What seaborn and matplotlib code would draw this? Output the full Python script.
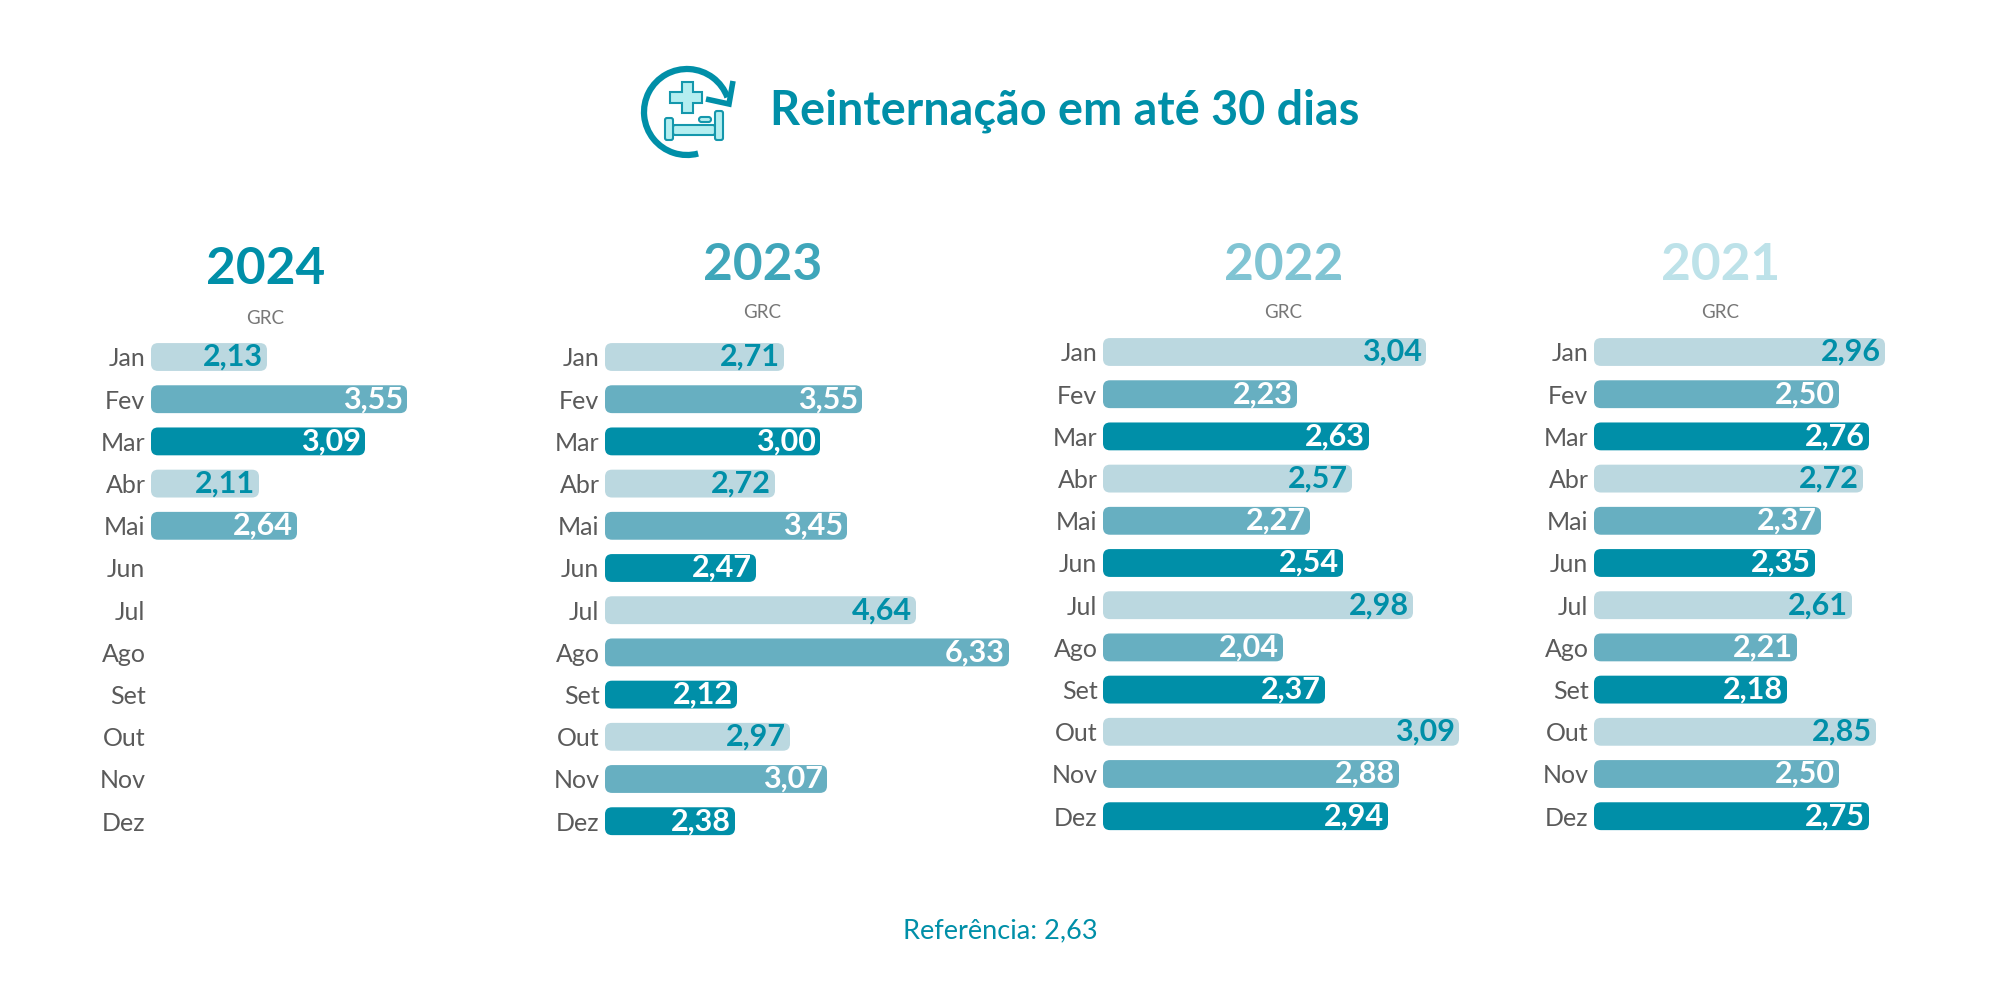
import numpy as np
import pandas as pd
import seaborn as sns
import matplotlib
matplotlib.use('Agg')
import matplotlib.pyplot as plt
from matplotlib.patches import Arc, FancyBboxPatch, Polygon

meses = ['Jan', 'Fev', 'Mar', 'Abr', 'Mai', 'Jun', 'Jul', 'Ago', 'Set', 'Out', 'Nov', 'Dez']
tons = ['claro', 'medio', 'escuro'] * 4

# printed values
valores_2024 = ['2,13', '3,55', '3,09', '2,11', '2,64']
valores_2023 = ['2,71', '3,55', '3,00', '2,72', '3,45', '2,47', '4,64', '6,33', '2,12', '2,97', '3,07', '2,38']
valores_2022 = ['3,04', '2,23', '2,63', '2,57', '2,27', '2,54', '2,98', '2,04', '2,37', '3,09', '2,88', '2,94']
valores_2021 = ['2,96', '2,50', '2,76', '2,72', '2,37', '2,35', '2,61', '2,21', '2,18', '2,85', '2,50', '2,75']

# the bars in the original are not proportional to the printed values,
# so the drawn lengths are read off the picture as their own series
barras_2024 = [116, 256, 214, 108, 146]
barras_2023 = [179, 257, 215, 170, 242, 151, 311, 404, 132, 185, 222, 130]
barras_2022 = [323, 194, 266, 249, 207, 240, 310, 180, 222, 356, 296, 285]
barras_2021 = [291, 245, 275, 269, 227, 221, 258, 203, 193, 282, 245, 275]

AZUL = '#008FA8'
cores = {'claro': '#BBD8E0', 'medio': '#67AFC1', 'escuro': AZUL}
cor_texto = {'claro': AZUL, 'medio': 'white', 'escuro': 'white'}

W, H = 2000, 1000
PASSO = 42.2   # row pitch in px

sns.set_theme(style='white')
plt.rcParams['font.family'] = ['Lato', 'DejaVu Sans']

fig = plt.figure(figsize=(20, 10), dpi=100, facecolor='white')

# overlay for title, icon and footer, in pixel units
base = fig.add_axes([0, 0, 1, 1])
base.set_xlim(0, W)
base.set_ylim(H, 0)
base.axis('off')

base.text(770, 111, 'Reinternação em até 30 dias', fontsize=33.7, fontweight='bold',
          color=AZUL, va='center', ha='left')
base.text(1000, 931, 'Referência: 2,63', fontsize=19.5, color=AZUL, va='center', ha='center')

# icon
base.add_patch(Arc((687, 112), 86, 86, theta1=75, theta2=340, color=AZUL, lw=4.5))
base.add_patch(Polygon([(733, 81), (729, 104), (706, 99)], closed=False, fill=False, ec=AZUL, lw=4))
fill_icone, borda_icone = '#B4EEF0', '#1497AC'
base.add_patch(Polygon([(682, 82), (693, 82), (693, 92), (702, 92), (702, 103), (693, 103), (693, 113),
                        (682, 113), (682, 103), (670, 103), (670, 92), (682, 92)],
                       closed=True, fc=fill_icone, ec=borda_icone, lw=1.5))
for xy, w, h in [((673, 125), 42, 10), ((665, 118), 8, 22), ((715, 111), 8, 29)]:
    base.add_patch(FancyBboxPatch(xy, w, h, boxstyle='round,pad=0,rounding_size=2',
                                  fc=fill_icone, ec=borda_icone, lw=1.5))
base.add_patch(FancyBboxPatch((699, 117), 12, 5, boxstyle='round,pad=0,rounding_size=2.5',
                              fc=fill_icone, ec=borda_icone, lw=1.5))

paineis = [
    ('2024', valores_2024, barras_2024, 151, 357, '#008FA8', 266, 270, 318),
    ('2023', valores_2023, barras_2023, 605, 357, '#3FA6BA', 763, 265, 313),
    ('2022', valores_2022, barras_2022, 1103, 352, '#80C4D3', 1284, 265, 313),
    ('2021', valores_2021, barras_2021, 1594, 352, '#BDE2E9', 1721, 265, 313),
]

for ano, valores, barras, x0, y0, cor_ano, x_ano, y_ano, y_grc in paineis:
    base.text(x_ano, y_ano, ano, fontsize=37, fontweight='bold', color=cor_ano, ha='center', va='center')
    base.text(x_ano - 1, y_grc, 'GRC', fontsize=13.5, color='#777777', ha='center', va='center')

    n = len(barras)
    df = pd.DataFrame({'mes': meses[:n], 'comprimento': barras, 'tom': tons[:n], 'valor': valores})

    topo = y0 - PASSO / 2
    largura = 420
    ax = fig.add_axes([x0 / W, 1 - (topo + 12 * PASSO) / H, largura / W, 12 * PASSO / H])
    ax.patch.set_alpha(0)
    sns.barplot(data=df, y='mes', x='comprimento', hue='tom', order=meses, hue_order=['claro', 'medio', 'escuro'],
                palette=cores, saturation=1, dodge=False, width=0.66, legend=False, ax=ax)
    ax.set_xlim(0, largura)
    ax.set_xlabel('')
    ax.set_ylabel('')
    ax.set_xticks([])
    ax.tick_params(axis='y', length=0, pad=4, labelsize=18, labelcolor='#5a5a5a')
    sns.despine(ax=ax, left=True, bottom=True)

    # swap the square bars for rounded ones, same geometry
    for p in list(ax.patches):
        x, y, w, h = p.get_x(), p.get_y(), p.get_width(), p.get_height()
        cor = p.get_facecolor()
        p.set_visible(False)
        if not w or np.isnan(w):
            continue
        ax.add_patch(FancyBboxPatch((x, y), w, h, boxstyle='round,pad=0,rounding_size=7',
                                    mutation_aspect=1 / PASSO, fc=cor, ec='none'))

    for i, linha in df.iterrows():
        ax.text(linha['comprimento'] - 4, i, linha['valor'], fontsize=22, fontweight='bold',
                color=cor_texto[linha['tom']], ha='right', va='center')

fig.savefig('out.png', dpi=100, facecolor='white')
